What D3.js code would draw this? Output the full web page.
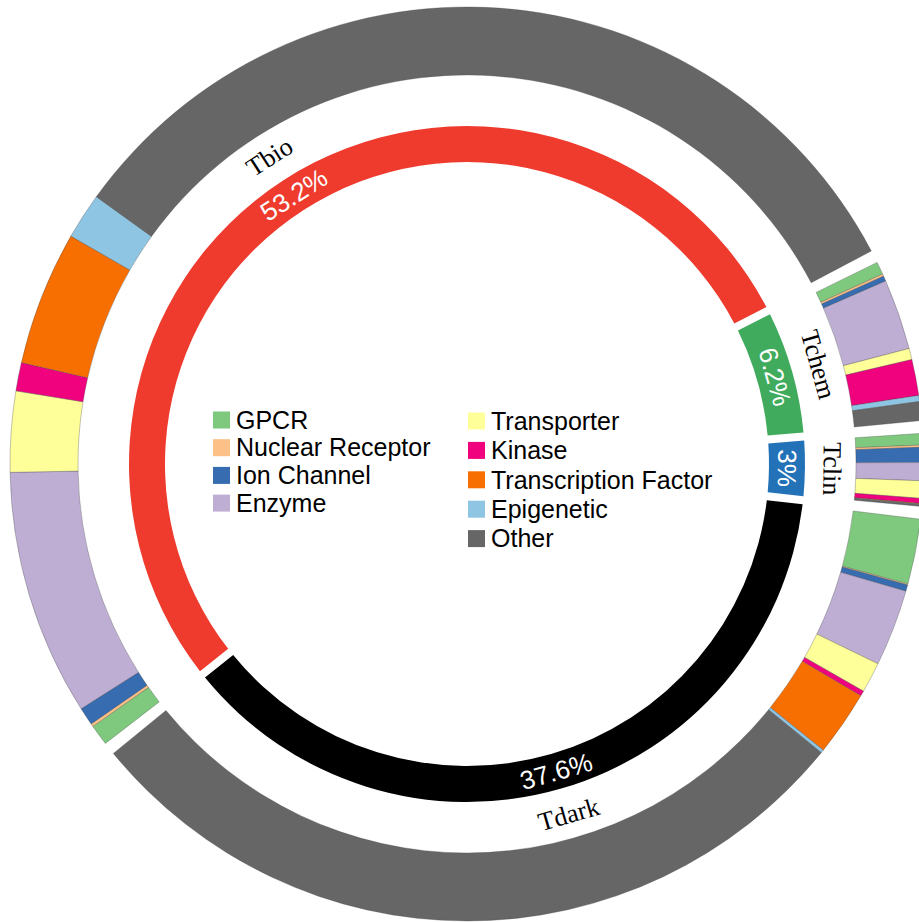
<!DOCTYPE html>
<html>
<head>
<meta charset="utf-8">
<script src="https://cdn.jsdelivr.net/npm/d3@7"></script>
<style>
  html, body { margin: 0; padding: 0; background: #fff; overflow: hidden; }
  svg { display: block; }
</style>
</head>
<body>
<svg id="chart" width="919" height="922"></svg>
<script>
// Target development levels (inner ring), percent of all targets
const levels = ["Tbio", "Tchem", "Tclin", "Tdark"];
const levelShare = [53.2, 6.2, 3, 37.6];
const levelColors = ["#ee3b2e", "#41ab5d", "#2372b8", "#000000"];

// Protein families (outer ring)
const families = ["GPCR", "Nuclear Receptor", "Ion Channel", "Enzyme", "Transporter",
                  "Kinase", "Transcription Factor", "Epigenetic", "Other"];
const familyColors = ["#7fc97f", "#fdc086", "#386cb0", "#beaed4", "#ffff99",
                      "#f0027f", "#f76f00", "#8ec5e3", "#666666"];

// Family share within each level (percent of that level)
const tbioFamilies  = [1.4, 0.2, 1.2, 16.5, 5.4, 1.9, 9.0, 3.1, 61.3];
const tchemFamilies = [7.8, 1.4, 3.2, 43.3, 6.9, 22.1, 0, 3.7, 11.6];
const tclinFamilies = [16, 3, 21, 25, 24, 7, 1, 0.5, 2.5];
const tdarkFamilies = [6.2, 0.1, 0.6, 7.3, 2.9, 0.5, 6.2, 0.3, 75.9];
const familyShares = [tbioFamilies, tchemFamilies, tclinFamilies, tdarkFamilies];

const svg = d3.select("#chart");
const cx = 467, cy = 464;
const deg = Math.PI / 180;
const g = svg.append("g").attr("transform", `translate(${cx},${cy})`);

const startAngle = 231.5 * deg;
const levelData = levels.map((name, i) => ({
  name, value: levelShare[i], color: levelColors[i], shares: familyShares[i]
}));
const levelPie = d3.pie().sort(null).value(d => d.value)
  .startAngle(startAngle).endAngle(startAngle + 2 * Math.PI);
const levelArcs = levelPie(levelData);

// Inner ring
const innerArc = d3.arc().innerRadius(302).outerRadius(338)
  .padAngle(0.025).padRadius(320);
g.append("g").selectAll("path")
  .data(levelArcs)
  .join("path")
  .attr("d", innerArc)
  .attr("fill", d => d.data.color);

// Outer ring: each level split into its protein families
const outerArc = d3.arc().innerRadius(389).outerRadius(457);
const groupGap = 1.6 * deg;
const outerG = g.append("g");
levelArcs.forEach(a => {
  const famPie = d3.pie().sort(null)
    .startAngle(a.startAngle + groupGap / 2)
    .endAngle(a.endAngle - groupGap / 2);
  const famArcs = famPie(a.data.shares);
  outerG.append("g").selectAll("path")
    .data(famArcs.filter(f => f.value > 0))
    .join("path")
    .attr("d", outerArc)
    .attr("fill", (f) => familyColors[f.index])
    .attr("stroke", "#444")
    .attr("stroke-opacity", 0.45)
    .attr("stroke-width", 0.7);
});

// Text placed tangentially around the rings
function tangent(angle, r) {
  const x = r * Math.sin(angle), y = -r * Math.cos(angle);
  let rot = angle / deg;
  rot = ((rot % 360) + 360) % 360;
  if (rot > 100 && rot < 260) rot -= 180;
  return `translate(${x},${y}) rotate(${rot})`;
}

g.append("g").selectAll("text")
  .data(levelArcs)
  .join("text")
  .attr("transform", d => tangent((d.startAngle + d.endAngle) / 2, 320))
  .attr("text-anchor", "middle")
  .attr("dominant-baseline", "central")
  .attr("font-family", "'Liberation Sans', Arial, sans-serif")
  .attr("font-size", 26)
  .attr("fill", "#fff")
  .text(d => d.data.value + "%");

g.append("g").selectAll("text")
  .data(levelArcs)
  .join("text")
  .attr("transform", d => tangent((d.startAngle + d.endAngle) / 2, 365))
  .attr("text-anchor", "middle")
  .attr("dominant-baseline", "central")
  .attr("font-family", "'Liberation Serif', 'Times New Roman', serif")
  .attr("font-size", 26)
  .attr("fill", "#000")
  .text(d => d.data.name);

// Legend in two columns
const legend = svg.append("g")
  .attr("font-family", "'Liberation Sans', Arial, sans-serif")
  .attr("font-size", 25)
  .attr("fill", "#000");
const legendItems = families.map((name, i) => {
  const left = i < 4;
  const row = left ? i : i - 4;
  return {
    name, color: familyColors[i],
    x: left ? 213 : 468,
    y: left ? 420 + row * 27.7 : 421 + row * 29.4
  };
});
const item = legend.selectAll("g").data(legendItems).join("g")
  .attr("transform", d => `translate(${d.x},${d.y})`);
item.append("rect")
  .attr("x", 0).attr("y", -8.5).attr("width", 17).attr("height", 17)
  .attr("fill", d => d.color);
item.append("text")
  .attr("x", 23).attr("y", 0).attr("dy", "0.35em")
  .text(d => d.name);
</script>
</body>
</html>
